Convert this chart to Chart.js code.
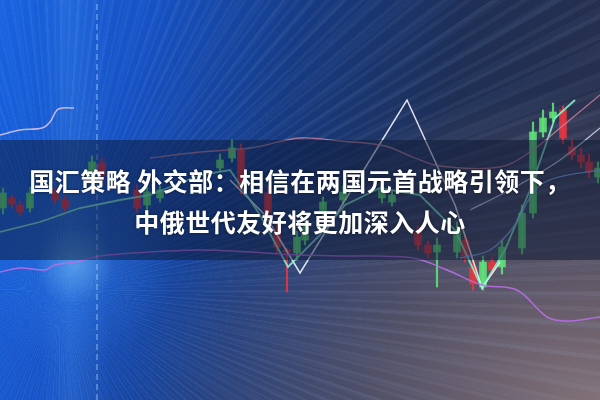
<!DOCTYPE html>
<html>
<head>
<meta charset="utf-8">
<script src="https://cdn.jsdelivr.net/npm/chart.js@4"></script>
<style>
    html, body { margin: 0; padding: 0; }
    .card {
        position: relative;
        width: 600px;
        height: 400px;
        overflow: hidden;
        background:
            repeating-conic-gradient(from 0deg at 60px 290px, rgba(200,220,255,0.05) 0deg 0.5deg, transparent 0.5deg 1.7deg),
            repeating-conic-gradient(from 0.3deg at 60px 290px, rgba(150,190,255,0.04) 0deg 0.9deg, transparent 0.9deg 3.1deg),
            radial-gradient(circle at 75px 265px, rgba(120,200,255,0.55) 0, rgba(60,150,255,0.18) 40px, transparent 100px),
            linear-gradient(90deg, transparent 40px, rgba(90,170,255,0.18) 70px, transparent 110px),
            radial-gradient(ellipse at 100% 100%, rgba(140,120,125,0.9) 0%, transparent 55%),
            linear-gradient(105deg, #1763e0 0%, #1652c4 22%, #173a80 45%, #1f2f55 68%, #2b3048 100%);
    }
    canvas { position: absolute; left: 0; top: 0; }
    .band {
        position: absolute;
        left: 0; top: 140px;
        width: 600px; height: 120px;
        background: rgba(12, 24, 52, 0.5);
    }
    .headline {
        position: absolute;
        left: 0; top: 160px;
        width: 600px;
        text-align: center;
        color: #fff;
        font-family: "Noto Sans CJK SC", sans-serif;
        font-weight: bold;
        font-size: 25px;
        line-height: 41px;
        letter-spacing: 0.5px;
        text-shadow: 0 0 3px rgba(0,0,0,0.55);
    }
</style>
</head>
<body>
<div class="card">
    <canvas id="chart" width="600" height="400"></canvas>
    <div class="band"></div>
    <div class="headline">
        <div>国汇策略 外交部：相信在两国元首战略引领下，</div>
        <div>中俄世代友好将更加深入人心</div>
    </div>
</div>
<script>
// candles
const candleDay   = [0.3, 1.2, 2.0, 3.0, 5.5, 6.5, 9.2, 10.2, 13.7, 14.7, 16.0, 22.0, 23.2, 24.1, 26.8, 27.7, 28.7, 29.7, 30.5, 32.3, 34.3, 38.2, 39.2, 41.8, 42.8, 43.7, 45.7, 46.5, 47.3, 48.3, 49.2, 50.2, 52.2, 53.3, 54.3, 55.3, 56.3, 57.2, 58.1, 58.9, 59.8];
const candleOpen  = [19.2, 20.2, 19.5, 19.2, 20.8, 20.0, 22.2, 23.7, 21.0, 19.5, 20.2, 23.2, 24.2, 25.0, 20.7, 17.0, 15.0, 14.7, 16.0, 18.8, 20.0, 20.2, 19.8, 16.8, 15.5, 14.8, 14.8, 16.0, 13.3, 11.3, 13.8, 13.3, 15.2, 18.7, 26.8, 28.2, 29.0, 25.3, 24.5, 23.8, 22.3];
const candleClose = [20.7, 19.6, 18.8, 20.7, 20.0, 19.2, 23.8, 22.4, 19.2, 20.8, 21.0, 24.0, 25.2, 21.3, 18.8, 15.3, 14.8, 16.3, 17.3, 19.8, 20.8, 21.0, 20.5, 15.5, 14.7, 15.5, 17.0, 14.4, 11.6, 13.8, 13.0, 15.3, 18.7, 26.8, 28.2, 28.8, 26.2, 24.5, 23.8, 22.8, 23.2];
const candleHigh  = [21.2, 20.5, 19.9, 21.3, 21.2, 20.4, 24.4, 24.2, 21.5, 21.3, 21.4, 24.6, 26.0, 25.6, 21.4, 17.6, 15.2, 16.9, 17.9, 20.3, 21.4, 21.5, 20.9, 17.4, 15.9, 16.2, 17.8, 16.5, 13.9, 14.4, 14.3, 16.0, 19.5, 27.8, 29.0, 29.7, 29.4, 26.0, 25.2, 24.6, 23.8];
const candleLow   = [18.6, 19.2, 18.4, 18.8, 19.6, 18.8, 21.6, 21.8, 18.7, 19.0, 19.8, 22.8, 23.8, 20.6, 18.2, 14.6, 10.8, 14.0, 15.5, 18.3, 19.6, 19.7, 19.4, 15.0, 14.2, 11.3, 14.2, 13.8, 11.0, 11.0, 12.5, 12.6, 14.6, 18.2, 26.3, 27.8, 25.6, 24.0, 23.2, 22.2, 21.7];

// moving-average style lines
const lavenderDay = [0, 2, 4.2, 5, 5.7, 6.3, 7.4];
const lavender    = [26.5, 27, 27.2, 27.8, 29, 29.2, 29.2];
const purpleDay   = [0, 2, 4.5, 5.5, 7.5, 10, 15, 20, 25, 30, 35, 41.3, 44.7, 48.2, 51.7, 54.7, 56.7, 60];
const purple      = [12.8, 13.2, 13, 13.5, 13.8, 14.4, 14.8, 15, 14.8, 14.5, 14.4, 14.2, 13, 11.5, 11, 8.3, 7.9, 8.3];
const mauveDay    = [15, 20, 25, 30, 34, 38.5, 41.5, 44, 50, 53, 56, 60];
const mauve       = [24.2, 24.8, 25.2, 26.2, 25.9, 25.4, 24.2, 23.4, 23.3, 24.8, 27.2, 30.5];
const whiteDay    = [23, 26.5, 30, 40.7, 45.5, 48.2, 50];
const white       = [22, 18.5, 12.7, 30, 19.5, 11.2, 13.8];
const cyanDay     = [0, 4, 8, 12, 15, 20, 23, 26, 28.8, 32, 34.5, 38, 42, 45.5, 48.2, 50.5, 53, 55.5, 57.5];
const cyan        = [16.8, 17.8, 19.2, 20, 20.5, 22.5, 23, 18.5, 13.3, 16.5, 19.5, 21.2, 20.5, 17, 11.2, 15, 21, 28.2, 30];
const skyDay      = [46, 49, 51.5, 53.5, 55.5, 60];
const sky         = [14.2, 15, 17.5, 21, 22.2, 23];
const paleDay     = [47, 51, 56, 60];
const pale        = [19, 21, 24, 27.2];
const markerDay   = 9.7;

const toPoints = (xs, ys) => xs.map((x, i) => ({ x: x, y: ys[i] }));

const upColor = 'rgba(95, 225, 120, 0.9)';
const downColor = 'rgba(232, 55, 65, 0.88)';
const candleColors = candleOpen.map((o, i) => candleClose[i] >= o ? upColor : downColor);

const bodies = candleDay.map((d, i) => ({ x: d, y: [candleOpen[i], candleClose[i]] }));
const wicks = candleDay.map((d, i) => ({ x: d, y: [candleLow[i], candleHigh[i]] }));

function lineSet(xs, ys, color, width, tension, extra) {
    return Object.assign({
        type: 'line',
        data: toPoints(xs, ys),
        borderColor: color,
        borderWidth: width,
        pointRadius: 0,
        tension: tension,
        fill: false,
        order: 0
    }, extra || {});
}

new Chart(document.getElementById('chart'), {
    type: 'bar',
    data: {
        datasets: [
            {
                data: wicks,
                backgroundColor: candleColors,
                barThickness: 1.5,
                grouped: false,
                order: 2
            },
            {
                data: bodies,
                backgroundColor: candleColors,
                barThickness: 7,
                grouped: false,
                order: 1
            },
            lineSet([markerDay, markerDay], [0, 40], 'rgba(200, 230, 255, 0.55)', 1.2, 0, { borderDash: [6, 4] }),
            lineSet(lavenderDay, lavender, 'rgba(225, 200, 235, 0.85)', 1.5, 0.35),
            lineSet(purpleDay, purple, 'rgba(185, 110, 230, 0.9)', 1.5, 0.35),
            lineSet(mauveDay, mauve, 'rgba(215, 140, 165, 0.75)', 1.3, 0.35),
            lineSet(skyDay, sky, 'rgba(140, 190, 255, 0.8)', 1.3, 0.35),
            lineSet(paleDay, pale, 'rgba(235, 240, 255, 0.75)', 1.3, 0.2),
            lineSet(cyanDay, cyan, 'rgba(140, 250, 210, 0.85)', 1.8, 0),
            lineSet(whiteDay, white, 'rgba(255, 255, 255, 0.85)', 1.5, 0)
        ]
    },
    options: {
        responsive: false,
        animation: false,
        events: [],
        layout: { padding: 0 },
        plugins: { legend: { display: false }, tooltip: { enabled: false } },
        scales: {
            x: { type: 'linear', min: 0, max: 60, offset: false, display: false },
            y: { type: 'linear', min: 0, max: 40, display: false }
        }
    }
});
</script>
</body>
</html>
